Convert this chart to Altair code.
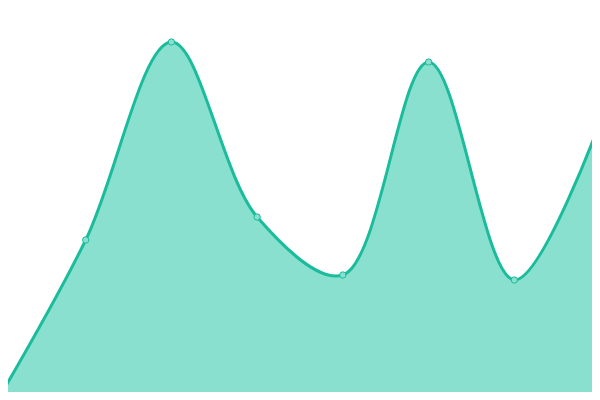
import altair as alt
import pandas as pd

labels = ["A", "B", "C", "D", "E", "F", "G", "H"]
idx = [0, 1, 2, 3, 4, 5, 6, 7]
values = [1, 40, 89.5, 45.75, 31.25, 84.5, 30, 69.5]

df = pd.DataFrame({"i": idx, "label": labels, "v": values})

x = alt.X("i:Q", axis=None, scale=alt.Scale(domain=[0, 7], nice=False, zero=False))
y = alt.Y("v:Q", axis=None, scale=alt.Scale(domain=[0, 100], nice=False))

base = alt.Chart(df).encode(x=x, y=y)

area = base.mark_area(interpolate="catmull-rom", color="#8ae0cf", opacity=1)
line = base.mark_line(interpolate="catmull-rom", color="#1abc9c", strokeWidth=3)
pts = base.mark_point(filled=True, size=40, fill="#8ae0cf", stroke="#1abc9c",
                      strokeWidth=1, opacity=1)

chart = (area + line + pts).properties(
    width=600, height=400,
    autosize=alt.AutoSizeParams(type="none"),
    padding={"left": -8, "top": -8, "right": -8, "bottom": -8},
).configure_view(stroke=None)

chart.save("out.html", embed_options={"renderer": "svg", "actions": False})
